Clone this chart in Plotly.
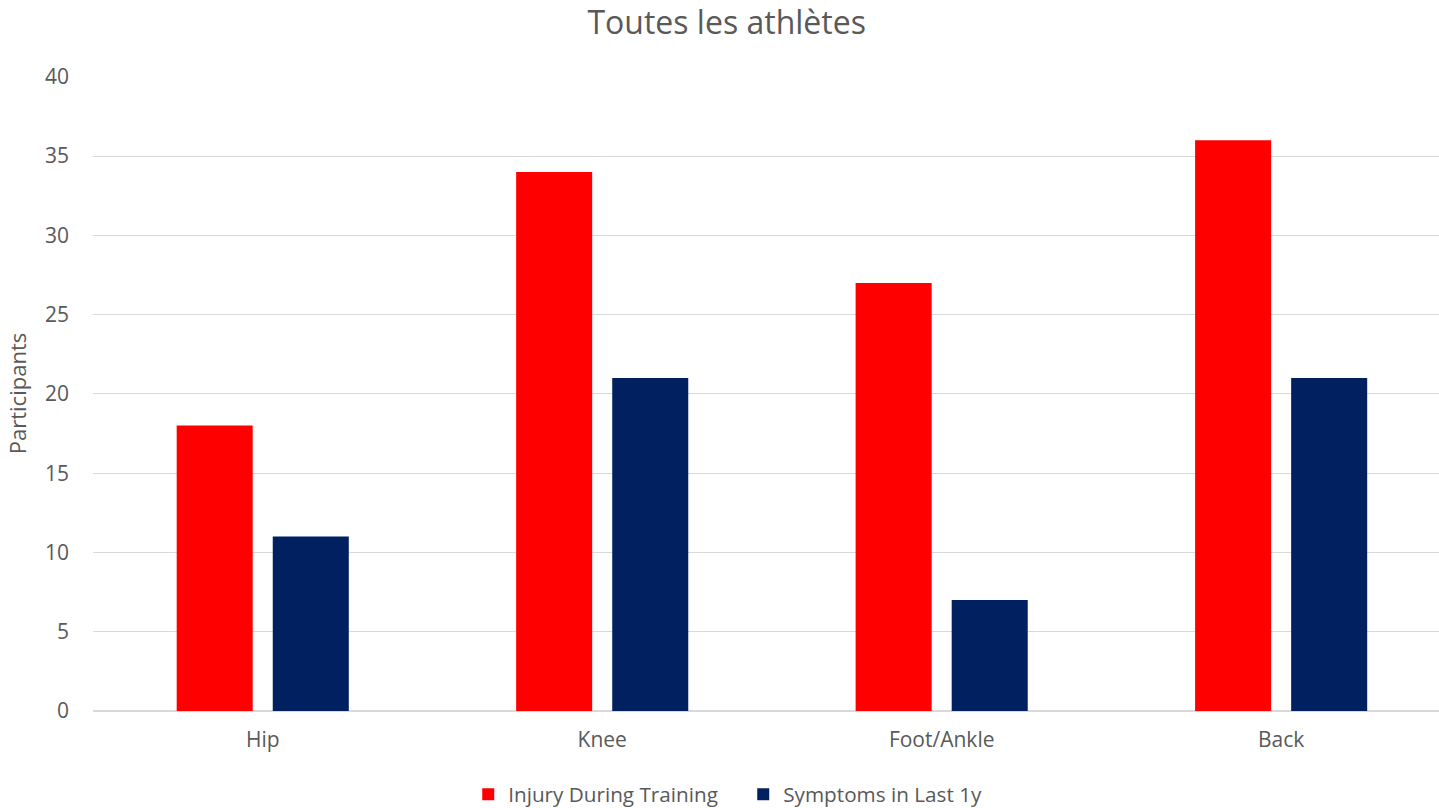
import plotly.graph_objects as go

categories = ["Hip", "Knee", "Foot/Ankle", "Back"]
injury_training = [18, 34, 27, 36]
symptoms_last_1y = [11, 21, 7, 21]
y_ticks = [0, 5, 10, 15, 20, 25, 30, 35, 40]

FONT = "Open Sans, Liberation Sans, sans-serif"
TEXT = "#595959"
GRID = "#d9d9d9"

# bar geometry in category units (one category = 1.0)
bar_w = 0.224
gap = 0.059

fig = go.Figure()
fig.add_trace(go.Bar(
    name="Injury During Training", x=categories, y=injury_training,
    marker=dict(color="#ff0000", line=dict(width=0)),
    width=bar_w, offset=-(bar_w + gap / 2),
))
fig.add_trace(go.Bar(
    name="Symptoms in Last 1y", x=categories, y=symptoms_last_1y,
    marker=dict(color="#002060", line=dict(width=0)),
    width=bar_w, offset=gap / 2,
))

fig.update_layout(
    width=1439, height=808,
    margin=dict(l=93, r=0, t=76, b=97, autoexpand=False),
    paper_bgcolor="white", plot_bgcolor="white",
    font=dict(family=FONT, color=TEXT, size=20),
    title=dict(text="Toutes les athlètes", x=0.505, xanchor="center",
               y=0.972, yanchor="middle",
               font=dict(family=FONT, size=32, color=TEXT)),
    barmode="group",
    showlegend=True,
    legend=dict(orientation="h", x=0.5165, xanchor="center", xref="container",
                y=0.017, yanchor="middle", yref="container",
                font=dict(size=20.7, color=TEXT), itemwidth=30,
                entrywidth=230, entrywidthmode="pixels",
                traceorder="normal"),
    xaxis=dict(range=[-0.5, 3.465], showgrid=False, showline=False,
               ticks="", tickfont=dict(size=21, color=TEXT),
               ticklabelstandoff=14, zeroline=False),
    yaxis=dict(range=[0, 40.05], tickvals=y_ticks, showgrid=True,
               gridcolor=GRID, gridwidth=1.3, zeroline=True,
               zerolinecolor=GRID, zerolinewidth=1.5, showline=False,
               ticks="", tickfont=dict(size=21, color=TEXT),
               ticklabelstandoff=23,
               title=dict(text="Participants", standoff=12,
                          font=dict(size=22, color=TEXT))),
)

fig.write_html("out.html")
